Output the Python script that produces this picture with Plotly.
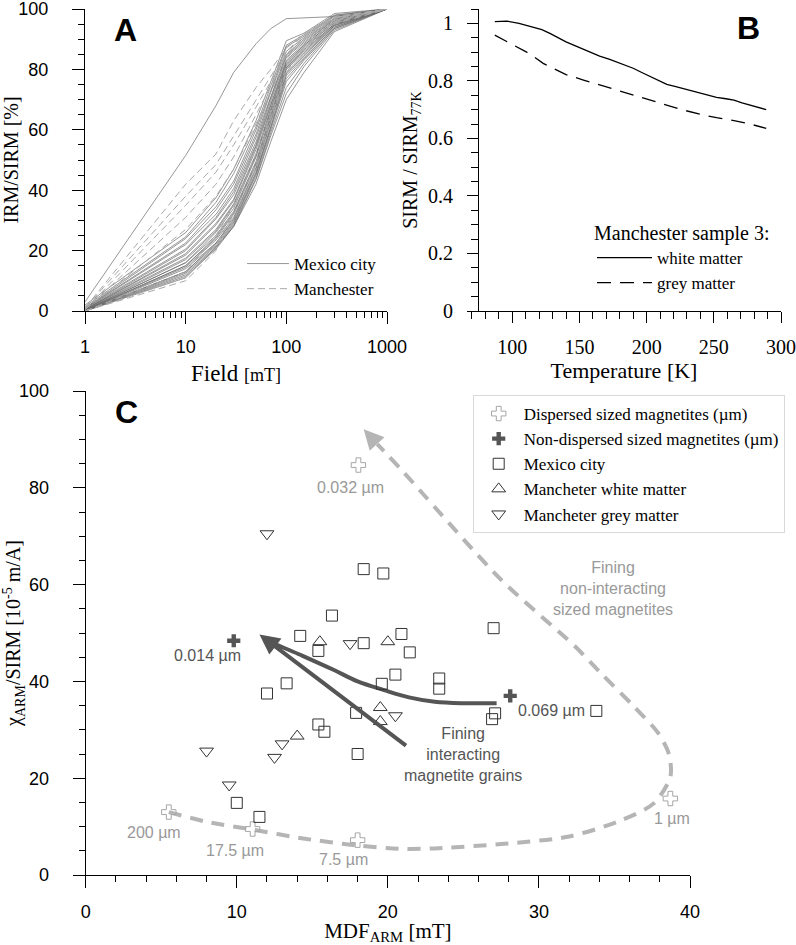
import plotly.graph_objects as go

SANS = "Liberation Sans, Arial, sans-serif"
SERIF = "Liberation Serif, Times New Roman, serif"

# ---------------- Panel A data: IRM acquisition curves ----------------
FIELD_MT = [1, 10, 20, 30, 50, 70, 100, 150, 300, 1000]

MEXICO_CURVES = [
    [3.0, 51.5, 68.0, 79.0, 88.5, 93.5, 96.8, 97.0, 97.5, 100],
    [2.0, 26.0, 37.5, 47.0, 63.0, 76.0, 89.5, 92.0, 98.5, 100],
    [1.5, 24.5, 36.0, 45.5, 61.0, 74.5, 88.0, 91.5, 98.0, 100],
    [1.0, 24.0, 34.5, 43.0, 60.0, 73.0, 87.5, 91.0, 97.8, 100],
    [1.0, 22.5, 33.5, 42.0, 58.5, 72.5, 86.0, 90.5, 97.5, 100],
    [0.8, 22.0, 32.0, 40.5, 57.5, 71.0, 85.0, 90.0, 97.0, 100],
    [0.8, 20.5, 31.0, 39.5, 56.0, 70.5, 84.5, 89.5, 96.8, 100],
    [0.5, 20.0, 30.5, 38.5, 55.0, 69.5, 84.0, 89.0, 96.5, 100],
    [0.5, 19.0, 29.0, 37.0, 54.5, 68.5, 83.0, 88.5, 96.5, 100],
    [0.5, 18.5, 28.5, 36.5, 53.5, 68.0, 82.5, 88.0, 96.0, 100],
    [0.5, 17.5, 27.0, 35.5, 52.0, 67.0, 82.0, 88.0, 96.0, 100],
    [0.3, 17.0, 26.5, 35.0, 51.5, 66.5, 81.5, 87.5, 95.5, 100],
    [0.3, 16.0, 26.0, 34.0, 51.0, 66.0, 81.0, 87.0, 95.5, 100],
    [0.3, 16.0, 25.0, 33.0, 49.5, 65.0, 80.5, 86.5, 95.0, 100],
    [0.2, 15.0, 24.5, 32.5, 49.0, 64.0, 80.5, 86.0, 95.0, 100],
    [0.2, 15.0, 24.0, 32.0, 48.5, 63.5, 80.0, 85.5, 94.8, 100],
    [0.2, 14.5, 23.5, 31.0, 47.5, 62.5, 79.0, 85.0, 94.5, 100],
    [0.1, 14.0, 22.5, 30.5, 47.0, 62.0, 78.5, 84.5, 94.5, 100],
    [0.1, 13.0, 22.5, 30.0, 46.0, 61.0, 78.0, 84.0, 94.0, 100],
    [0.1, 13.0, 22.0, 29.5, 45.5, 60.5, 77.0, 83.5, 94.0, 100],
    [0.0, 12.5, 21.5, 29.0, 45.0, 60.0, 76.0, 83.0, 93.5, 100],
    [0.0, 12.0, 21.0, 28.5, 44.0, 59.0, 74.0, 82.0, 93.5, 100],
    [0.0, 11.5, 20.5, 28.0, 43.5, 58.0, 72.0, 81.0, 93.0, 100],
    [0.0, 11.0, 21.0, 28.0, 42.0, 56.0, 70.0, 79.0, 92.5, 100],
]

MANCHESTER_CURVES = [
    [1.0, 42.0, 52.0, 63.0, 74.0, 80.0, 87.0, 92.0, 97.5, 100],
    [1.0, 38.0, 48.5, 58.0, 70.0, 77.5, 86.0, 91.5, 97.0, 100],
    [0.5, 35.0, 46.0, 55.0, 67.5, 76.0, 85.0, 91.0, 97.0, 100],
    [0.5, 31.0, 42.0, 51.0, 65.0, 74.5, 84.5, 90.5, 96.5, 100],
    [0.5, 27.0, 38.0, 47.0, 62.0, 72.5, 83.5, 90.0, 96.5, 100],
    [0.0, 13.0, 25.0, 35.0, 52.0, 66.0, 81.0, 88.0, 96.0, 100],
    [0.0, 11.0, 22.0, 32.0, 49.0, 64.0, 80.0, 87.5, 95.5, 100],
    [0.0, 10.0, 20.0, 30.0, 47.0, 62.0, 79.0, 87.0, 95.0, 100],
]

# ---------------- Panel B data: low-temperature SIRM ----------------
TEMP_WHITE_K = [87, 96, 105, 115, 122, 128, 134, 140, 147, 153, 159, 165, 172, 178, 184, 190,
                196, 203, 209, 215, 221, 227, 234, 240, 246, 252, 259, 265, 271, 277, 283, 289]
SIRM_WHITE = [1.006, 1.008, 1.000, 0.988, 0.978, 0.965, 0.950, 0.936, 0.922, 0.910, 0.898,
              0.886, 0.876, 0.866, 0.855, 0.844, 0.830, 0.815, 0.800, 0.788, 0.781, 0.774,
              0.765, 0.757, 0.750, 0.743, 0.738, 0.733, 0.724, 0.716, 0.709, 0.700]
TEMP_GREY_K = [87, 95, 103, 110, 116, 123, 130, 140, 153, 165, 178, 190, 202, 215, 227,
               240, 252, 265, 277, 289]
SIRM_GREY = [0.959, 0.940, 0.919, 0.902, 0.884, 0.861, 0.845, 0.822, 0.803, 0.786, 0.768,
             0.751, 0.733, 0.716, 0.699, 0.684, 0.672, 0.662, 0.650, 0.635]

# ---------------- Panel C data ----------------
DISP_X = [5.5, 11.05, 18.0, 38.7, 18.05]
DISP_Y = [13.0, 9.5, 7.2, 15.8, 84.7]
DISP_LABELS = ["200 µm", "17.5 µm", "7.5 µm", "1 µm", "0.032 µm"]
DISP_LABEL_X = [4.55, 9.9, 17.05, 38.8, 17.54]
DISP_LABEL_Y = [8.7, 5.0, 3.2, 11.7, 80.1]

NONDISP_X = [9.8, 28.1]
NONDISP_Y = [48.4, 37.0]
NONDISP_LABELS = ["0.014 µm", "0.069 µm"]
NONDISP_LABEL_X = [8.03, 30.8]
NONDISP_LABEL_Y = [45.45, 34.0]

MEXICO_MDF = [18.4, 19.7, 16.3, 14.2, 15.4, 18.4, 20.9, 21.45, 20.5, 19.6, 23.4, 23.4,
              13.3, 12.0, 27.0, 27.1, 26.9, 17.9, 15.4, 15.8, 18.0, 10.0, 11.5, 33.8]
MEXICO_RATIO = [63.2, 62.3, 53.6, 49.4, 46.3, 47.9, 49.8, 46.0, 41.4, 39.5, 40.6, 38.5,
                39.6, 37.5, 51.0, 33.4, 32.2, 33.5, 31.1, 29.6, 25.0, 14.9, 12.0, 33.9]

WHITE_MDF = [15.5, 20.0, 19.5, 19.5, 14.0]
WHITE_RATIO = [48.2, 48.2, 34.6, 31.7, 28.7]

GREY_MDF = [12.0, 17.5, 20.5, 13.0, 12.5, 8.0, 9.5]
GREY_RATIO = [70.5, 47.8, 32.9, 27.1, 24.3, 25.6, 18.6]

# trend arrows (panel C)
INTER_CURVE_X = [27.2, 25.0, 23.1, 21.4, 19.75, 18.0, 16.4, 14.2, 12.45, 11.9]
INTER_CURVE_Y = [35.5, 35.5, 35.8, 36.7, 38.2, 40.0, 42.4, 45.5, 47.9, 49.0]
INTER_STRAIGHT_START = (21.3, 26.5)
INTER_TIP = (11.5, 49.7)

LOOP_X = [5.5, 8.0, 11.0, 14.5, 18.0, 21.0, 23.1, 27.5, 31.9, 35.2, 37.6, 38.7, 38.6,
          37.9, 36.3, 34.1, 32.4, 27.5, 20.9, 19.3]
LOOP_Y = [13.0, 11.0, 9.4, 7.5, 6.1, 5.4, 5.5, 6.4, 7.9, 11.0, 14.8, 20.3, 25.0,
          29.3, 34.8, 41.7, 47.2, 61.0, 83.7, 89.0]
LOOP_TIP = (18.4, 92.1)

fig = go.Figure()

# ---- Panel A traces
for i, ys in enumerate(MEXICO_CURVES):
    fig.add_trace(go.Scatter(
        x=FIELD_MT, y=ys, mode="lines", xaxis="x", yaxis="y",
        line=dict(color="#6a6a6a", width=0.7),
        name="Mexico city", legendgroup="mex", showlegend=(i == 0), legend="legend"))
for i, ys in enumerate(MANCHESTER_CURVES):
    fig.add_trace(go.Scatter(
        x=FIELD_MT, y=ys, mode="lines", xaxis="x", yaxis="y",
        line=dict(color="#aaaaaa", width=1, dash="7px,4px"),
        name="Manchester", legendgroup="man", showlegend=(i == 0), legend="legend"))

# ---- Panel B traces
fig.add_trace(go.Scatter(x=TEMP_WHITE_K, y=SIRM_WHITE, mode="lines", xaxis="x2", yaxis="y2",
                         line=dict(color="black", width=1.3), name="white matter",
                         legend="legend2"))
fig.add_trace(go.Scatter(x=TEMP_GREY_K, y=SIRM_GREY, mode="lines", xaxis="x2", yaxis="y2",
                         line=dict(color="black", width=1.3, dash="14px,9px"),
                         name="grey matter", legend="legend2"))

# ---- Panel C traces
fig.add_trace(go.Scatter(x=LOOP_X, y=LOOP_Y, mode="lines", xaxis="x3", yaxis="y3",
                         line=dict(color="#b5b5b5", width=4, dash="13px,9px", shape="spline",
                                   smoothing=0.8),
                         showlegend=False, hoverinfo="skip"))
fig.add_trace(go.Scatter(x=INTER_CURVE_X, y=INTER_CURVE_Y, mode="lines", xaxis="x3", yaxis="y3",
                         line=dict(color="#555555", width=4, shape="spline"),
                         showlegend=False, hoverinfo="skip"))

fig.add_trace(go.Scatter(x=DISP_X, y=DISP_Y, mode="markers", xaxis="x3", yaxis="y3",
                         marker=dict(symbol="cross-open", size=12, color="#a6a6a6",
                                     line=dict(width=1, color="#a6a6a6")),
                         name="Dispersed sized magnetites (µm)", legend="legend3"))
fig.add_trace(go.Scatter(x=NONDISP_X, y=NONDISP_Y, mode="markers", xaxis="x3", yaxis="y3",
                         marker=dict(symbol="cross", size=11, color="#555555",
                                     line=dict(width=0)),
                         name="Non-dispersed sized magnetites (µm)", legend="legend3"))
fig.add_trace(go.Scatter(x=MEXICO_MDF, y=MEXICO_RATIO, mode="markers", xaxis="x3", yaxis="y3",
                         marker=dict(symbol="square-open", size=11, color="#333333",
                                     line=dict(width=1, color="#333333")),
                         name="Mexico city", legend="legend3"))
fig.add_trace(go.Scatter(x=WHITE_MDF, y=WHITE_RATIO, mode="markers", xaxis="x3", yaxis="y3",
                         marker=dict(symbol="triangle-up-open", size=12, color="#333333",
                                     line=dict(width=1, color="#333333")),
                         name="Mancheter white matter", legend="legend3"))
fig.add_trace(go.Scatter(x=GREY_MDF, y=GREY_RATIO, mode="markers", xaxis="x3", yaxis="y3",
                         marker=dict(symbol="triangle-down-open", size=12, color="#333333",
                                     line=dict(width=1, color="#333333")),
                         name="Mancheter grey matter", legend="legend3"))

annotations = []
# arrow heads
annotations.append(dict(x=INTER_TIP[0], y=INTER_TIP[1], ax=INTER_STRAIGHT_START[0],
                        ay=INTER_STRAIGHT_START[1], xref="x3", yref="y3", axref="x3",
                        ayref="y3", showarrow=True, arrowhead=2, arrowsize=1,
                        arrowwidth=4, arrowcolor="#555555", text=""))
annotations.append(dict(x=LOOP_TIP[0], y=LOOP_TIP[1], ax=LOOP_X[-1], ay=LOOP_Y[-1],
                        xref="x3", yref="y3", axref="x3", ayref="y3", showarrow=True,
                        arrowhead=2, arrowsize=1, arrowwidth=4, arrowcolor="#b5b5b5",
                        text=""))
for t, x, y in zip(DISP_LABELS, DISP_LABEL_X, DISP_LABEL_Y):
    annotations.append(dict(x=x, y=y, xref="x3", yref="y3", text=t, showarrow=False,
                            font=dict(family=SANS, size=16, color="#999999")))
for t, x, y in zip(NONDISP_LABELS, NONDISP_LABEL_X, NONDISP_LABEL_Y):
    annotations.append(dict(x=x, y=y, xref="x3", yref="y3", text=t, showarrow=False,
                            font=dict(family=SANS, size=16, color="#555555")))
annotations.append(dict(x=34.9, y=59.2, xref="x3", yref="y3",
                        text="Fining<br>non-interacting<br>sized magnetites", showarrow=False,
                        font=dict(family=SANS, size=16, color="#999999")))
annotations.append(dict(x=24.95, y=24.8, xref="x3", yref="y3",
                        text="Fining<br>interacting<br>magnetite grains", showarrow=False,
                        font=dict(family=SANS, size=16, color="#555555")))
# panel letters
for letter, px, py in [("A", 125, 30), ("B", 748, 28), ("C", 126, 412)]:
    annotations.append(dict(x=px / 796, y=1 - py / 945, xref="paper", yref="paper",
                            xanchor="center", yanchor="middle",
                            text="<b>%s</b>" % letter, showarrow=False,
                            font=dict(family=SANS, size=32, color="black")))

common = dict(showline=True, linecolor="black", linewidth=1, ticks="outside",
              tickwidth=1, tickcolor="black", showgrid=False, zeroline=False,
              automargin=False, ticklabeloverflow="allow")

MINOR_LOG = [2, 3, 4, 5, 6, 7, 8, 9, 20, 30, 40, 50, 60, 70, 80, 90,
             200, 300, 400, 500, 600, 700, 800, 900]

fig.update_layout(
    template="none",
    width=796, height=945, margin=dict(l=0, r=0, t=0, b=0, autoexpand=False),
    plot_bgcolor="white", paper_bgcolor="white",
    xaxis=dict(domain=[85 / 796, 387 / 796], type="log", range=[0, 3], anchor="y",
               tickvals=[1, 10, 100, 1000], ticktext=["1", "10", "100", "1000"], ticklen=12,
               tickfont=dict(family=SANS, size=18, color="black"), ticklabelstandoff=7,
               minor=dict(tickvals=MINOR_LOG, ticks="outside", ticklen=6, tickcolor="black"),
               title=dict(text="Field <span style='font-size:18px'>[mT]</span>",
                          font=dict(family=SERIF, size=23, color="black"), standoff=9),
               **common),
    yaxis=dict(domain=[(945 - 311) / 945, (945 - 9) / 945], range=[0, 100], anchor="x",
               dtick=20, ticklen=12, tickfont=dict(family=SANS, size=18, color="black"),
               ticklabelstandoff=20,
               minor=dict(dtick=5, ticks="outside", ticklen=6, tickcolor="black"),
               title=dict(text="IRM/SIRM [%]", font=dict(family=SERIF, size=20, color="black"),
                          standoff=4),
               **common),
    xaxis2=dict(domain=[467 / 796, 781 / 796], range=[66.3, 300], anchor="y2",
                dtick=50, tick0=0, ticklen=11,
                tickfont=dict(family=SERIF, size=20, color="black"), ticklabelstandoff=7,
                minor=dict(dtick=10, ticks="outside", ticklen=7, tickcolor="black"),
                title=dict(text="Temperature [K]", font=dict(family=SERIF, size=22, color="black"),
                           standoff=1),
                **common),
    yaxis2=dict(domain=[(945 - 311) / 945, (945 - 9) / 945], range=[0, 1.05], anchor="free",
                position=478 / 796, dtick=0.2, ticklen=11,
                tickfont=dict(family=SERIF, size=20, color="black"), ticklabelstandoff=10,
                minor=dict(dtick=0.05, ticks="outside", ticklen=7, tickcolor="black"),
                title=dict(text="SIRM / SIRM<sub>77K</sub>",
                           font=dict(family=SERIF, size=20, color="black"), standoff=4),
                **common),
    xaxis3=dict(domain=[85.7 / 796, 690 / 796], range=[0, 40], anchor="y3", dtick=10,
                ticklen=12, tickfont=dict(family=SANS, size=18, color="black"),
                ticklabelstandoff=8,
                minor=dict(dtick=2, ticks="outside", ticklen=6, tickcolor="black"),
                title=dict(text="MDF<sub>ARM</sub> [mT]",
                           font=dict(family=SERIF, size=21, color="black"), standoff=7),
                **common),
    yaxis3=dict(domain=[(945 - 875) / 945, (945 - 391) / 945], range=[0, 100], anchor="x3",
                dtick=20, ticklen=12, tickfont=dict(family=SANS, size=18, color="black"),
                ticklabelstandoff=20,
                minor=dict(dtick=5, ticks="outside", ticklen=6, tickcolor="black"),
                title=dict(text="χ<sub>ARM</sub>/SIRM [10<sup>-5</sup> m/A]",
                           font=dict(family=SERIF, size=20, color="black"), standoff=4),
                **common),
    legend=dict(x=242 / 796, y=1 - 246 / 945, xanchor="left", yanchor="top",
                bgcolor="rgba(0,0,0,0)", itemwidth=42, borderwidth=0,
                font=dict(family=SERIF, size=17, color="black"), tracegroupgap=0),
    legend2=dict(x=592 / 796, y=1 - 214 / 945, xanchor="left", yanchor="top",
                 bgcolor="rgba(0,0,0,0)", itemwidth=55, borderwidth=0,
                 title=dict(text="Manchester sample 3:",
                            font=dict(family=SERIF, size=20, color="black")),
                 font=dict(family=SERIF, size=17, color="black")),
    legend3=dict(x=472.7 / 796, y=1 - 395 / 945, xanchor="left", yanchor="top",
                 bgcolor="white", bordercolor="#d9d9d9", borderwidth=1, itemwidth=40,
                 font=dict(family=SERIF, size=17, color="black")),
    annotations=annotations,
)

fig.write_html("out.html", config={"displayModeBar": False},
               post_script="document.body.style.margin='0px';")
